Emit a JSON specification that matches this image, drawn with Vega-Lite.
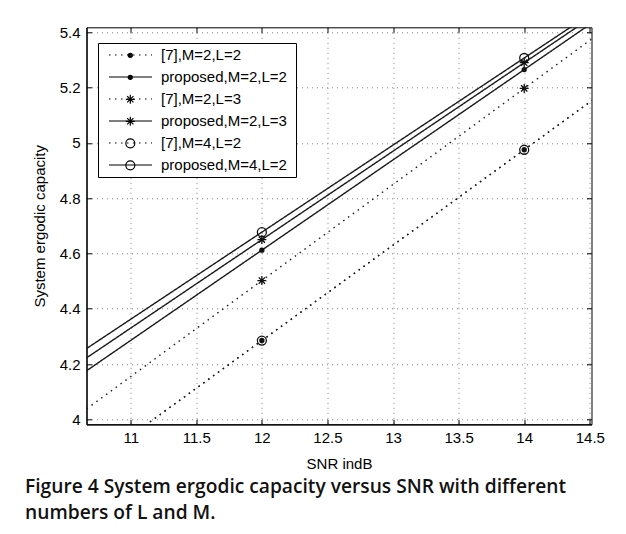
{
  "$schema": "https://vega.github.io/schema/vega-lite/v6.json",
  "width": 505,
  "height": 397,
  "autosize": {"type": "none"},
  "padding": {"left": 86.5, "top": 27.3, "right": 34.5, "bottom": 109.7},
  "background": "#ffffff",
  "title": {
    "text": ["Figure 4 System ergodic capacity versus SNR with different", "numbers of L and M."],
    "orient": "bottom",
    "anchor": "start",
    "frame": "group",
    "dx": -61.5,
    "offset": 7,
    "font": "Open Sans",
    "fontSize": 19.2,
    "fontWeight": 600,
    "color": "#111111",
    "lineHeight": 26
  },
  "data": {
    "values": [
      {"snr": 10, "cap": 3.595, "series": "[7],M=2,L=2"},
      {"snr": 12, "cap": 4.285, "series": "[7],M=2,L=2"},
      {"snr": 14, "cap": 4.975, "series": "[7],M=2,L=2"},
      {"snr": 16, "cap": 5.665, "series": "[7],M=2,L=2"},
      {"snr": 10, "cap": 3.959, "series": "proposed,M=2,L=2"},
      {"snr": 12, "cap": 4.612, "series": "proposed,M=2,L=2"},
      {"snr": 14, "cap": 5.265, "series": "proposed,M=2,L=2"},
      {"snr": 16, "cap": 5.918, "series": "proposed,M=2,L=2"},
      {"snr": 10, "cap": 3.807, "series": "[7],M=2,L=3"},
      {"snr": 12, "cap": 4.502, "series": "[7],M=2,L=3"},
      {"snr": 14, "cap": 5.197, "series": "[7],M=2,L=3"},
      {"snr": 16, "cap": 5.892, "series": "[7],M=2,L=3"},
      {"snr": 10, "cap": 4.01, "series": "proposed,M=2,L=3"},
      {"snr": 12, "cap": 4.65, "series": "proposed,M=2,L=3"},
      {"snr": 14, "cap": 5.29, "series": "proposed,M=2,L=3"},
      {"snr": 16, "cap": 5.93, "series": "proposed,M=2,L=3"},
      {"snr": 10, "cap": 3.595, "series": "[7],M=4,L=2"},
      {"snr": 12, "cap": 4.285, "series": "[7],M=4,L=2"},
      {"snr": 14, "cap": 4.975, "series": "[7],M=4,L=2"},
      {"snr": 16, "cap": 5.665, "series": "[7],M=4,L=2"},
      {"snr": 10, "cap": 4.047, "series": "proposed,M=4,L=2"},
      {"snr": 12, "cap": 4.677, "series": "proposed,M=4,L=2"},
      {"snr": 14, "cap": 5.307, "series": "proposed,M=4,L=2"},
      {"snr": 16, "cap": 5.937, "series": "proposed,M=4,L=2"}
    ]
  },
  "resolve": {"axis": {"x": "independent", "y": "independent"}},
  "layer": [
    {
      "mark": {"type": "line", "clip": true, "stroke": "#1a1a1a", "strokeWidth": 1.4},
      "encoding": {
        "x": {
          "field": "snr", "type": "quantitative",
          "scale": {"domain": [10.663, 14.513], "nice": false, "zero": false},
          "axis": {
            "orient": "bottom", "title": "SNR indB", "values": [11, 11.5, 12, 12.5, 13, 13.5, 14, 14.5],
            "format": "~g", "grid": true, "tickSize": -5, "labelPadding": 11, "titlePadding": 11
          }
        },
        "y": {
          "field": "cap", "type": "quantitative",
          "scale": {"domain": [3.982, 5.418], "nice": false, "zero": false},
          "axis": {
            "orient": "left", "title": "System ergodic capacity", "values": [4, 4.2, 4.4, 4.6, 4.8, 5, 5.2, 5.4],
            "format": "~g", "grid": true, "tickSize": -5, "labelPadding": 11.5, "titlePadding": 12
          }
        },
        "strokeDash": {
          "field": "series", "type": "nominal",
          "scale": {
            "domain": ["[7],M=2,L=2", "proposed,M=2,L=2", "[7],M=2,L=3", "proposed,M=2,L=3", "[7],M=4,L=2", "proposed,M=4,L=2"],
            "range": [[1.5, 4.5], [1, 0], [1.5, 4.5], [1, 0], [1.5, 4.5], [1, 0]]
          },
          "legend": {
            "orient": "none",
            "legendX": 11.5,
            "legendY": 15.7,
            "title": ".",
            "titleOrient": "right",
            "titleColor": "#ffffff",
            "titleFontSize": 8,
            "titlePadding": 5,
            "strokeColor": "#000000",
            "fillColor": "#ffffff",
            "padding": 1,
            "rowPadding": 0,
            "clipHeight": 22,
            "symbolType": "stroke",
            "symbolSize": 1849,
            "symbolStrokeWidth": 1.2,
            "symbolStrokeColor": "#000000",
            "symbolOffset": 9,
            "labelOffset": 8,
            "labelFont": "Liberation Sans",
            "labelFontSize": 15,
            "labelColor": "#000000",
            "labelLimit": 400
          }
        }
      }
    },
    {
      "mark": {"type": "point", "clip": true, "filled": false, "stroke": "#111111", "strokeWidth": 1.3, "opacity": 1, "size": 81},
      "encoding": {
        "x": {
          "field": "snr", "type": "quantitative",
          "axis": {"orient": "top", "title": null, "labels": false, "grid": false, "domain": false, "tickSize": -5,
                   "values": [11, 11.5, 12, 12.5, 13, 13.5, 14, 14.5]}
        },
        "y": {
          "field": "cap", "type": "quantitative",
          "axis": {"orient": "right", "title": null, "labels": false, "grid": false, "domain": false, "tickSize": -5,
                   "values": [4, 4.2, 4.4, 4.6, 4.8, 5, 5.2, 5.4]}
        },
        "shape": {
          "field": "series", "type": "nominal",
          "scale": {
            "domain": ["[7],M=2,L=2", "proposed,M=2,L=2", "[7],M=2,L=3", "proposed,M=2,L=3", "[7],M=4,L=2", "proposed,M=4,L=2"],
            "range": [
              "M-0.45,0a0.45,0.45 0 1,0 0.9,0a0.45,0.45 0 1,0 -0.9,0ZM-0.18,0a0.18,0.18 0 1,0 0.36,0a0.18,0.18 0 1,0 -0.36,0Z",
              "M-0.45,0a0.45,0.45 0 1,0 0.9,0a0.45,0.45 0 1,0 -0.9,0ZM-0.18,0a0.18,0.18 0 1,0 0.36,0a0.18,0.18 0 1,0 -0.36,0Z",
              "M-1,0H1M0,-1V1M-0.7,-0.7L0.7,0.7M-0.7,0.7L0.7,-0.7",
              "M-1,0H1M0,-1V1M-0.7,-0.7L0.7,0.7M-0.7,0.7L0.7,-0.7",
              "circle",
              "circle"
            ]
          },
          "legend": {
            "orient": "top-left",
            "offset": 15.7,
            "title": null,
            "padding": 1,
            "rowPadding": 0,
            "clipHeight": 22,
            "symbolSize": 81,
            "symbolStrokeWidth": 1.2,
            "symbolStrokeColor": "#000000",
            "symbolFillColor": "#ffffff",
            "symbolOffset": 19.3,
            "labelExpr": "''",
            "labelFont": "Liberation Sans",
            "labelFontSize": 15
          }
        }
      }
    }
  ],
  "config": {
    "view": {"stroke": "#000000", "strokeWidth": 1},
    "axis": {
      "labelFont": "Liberation Sans",
      "titleFont": "Liberation Sans",
      "labelFontSize": 15,
      "titleFontSize": 15,
      "titleFontWeight": "normal",
      "labelColor": "#000000",
      "titleColor": "#000000",
      "tickColor": "#000000",
      "domainColor": "#000000",
      "domainWidth": 1.2,
      "gridColor": "#808080",
      "gridDash": [1, 4],
      "gridOpacity": 1,
      "gridWidth": 1
    }
  }
}
